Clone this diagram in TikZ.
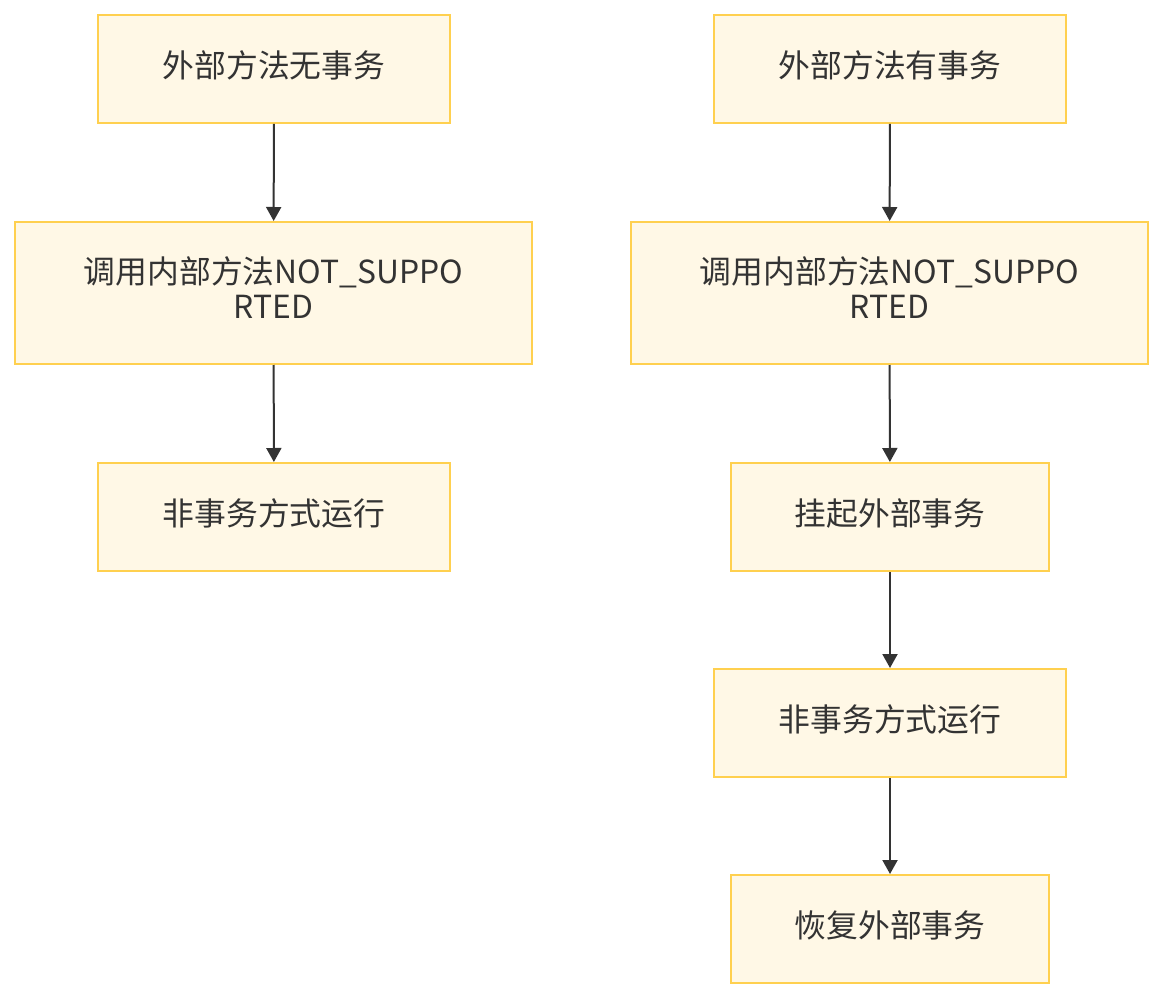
\documentclass[tikz,border=0pt]{standalone}
\usepackage{fontspec}
\setmainfont{Noto Sans CJK SC}
\usetikzlibrary{arrows.meta}
\definecolor{boxfill}{HTML}{FFF8E6}
\definecolor{boxdraw}{HTML}{FFD04F}
\definecolor{ink}{HTML}{333333}
\newcommand{\lifted}[1]{\raisebox{3pt}{\begin{tabular}{@{}c@{}}#1\end{tabular}}}
\begin{document}
\begin{tikzpicture}[x=1pt,y=-1pt,
  box/.style={draw=boxdraw,fill=boxfill,line width=2pt,text=ink,align=center,
    font=\fontsize{31.8}{35}\selectfont,inner sep=0pt},
  conn/.style={draw=ink,line width=2pt,-{Triangle[width=15pt,length=14pt]}}]
\useasboundingbox (0,0) rectangle (1164,1000);
\node[box,minimum width=352pt,minimum height=108pt] (a) at (274,69) {\lifted{外部方法无事务}};
\node[box,minimum width=517pt,minimum height=142pt] (b) at (273.5,293) {\lifted{调用内部方法NOT\_SUPPO\\RTED}};
\node[box,minimum width=352pt,minimum height=108pt] (c) at (274,517) {\lifted{非事务方式运行}};
\node[box,minimum width=352pt,minimum height=108pt] (d) at (890,69) {\lifted{外部方法有事务}};
\node[box,minimum width=517pt,minimum height=142pt] (e) at (889.5,293) {\lifted{调用内部方法NOT\_SUPPO\\RTED}};
\node[box,minimum width=318pt,minimum height=108pt] (f) at (890,517) {\lifted{挂起外部事务}};
\node[box,minimum width=352pt,minimum height=108pt] (g) at (890,723) {\lifted{非事务方式运行}};
\node[box,minimum width=318pt,minimum height=108pt] (h) at (890,929) {\lifted{恢复外部事务}};
\draw[conn] (a) -- (b);
\draw[conn] (b) -- (c);
\draw[conn] (d) -- (e);
\draw[conn] (e) -- (f);
\draw[conn] (f) -- (g);
\draw[conn] (g) -- (h);
\end{tikzpicture}
\end{document}
